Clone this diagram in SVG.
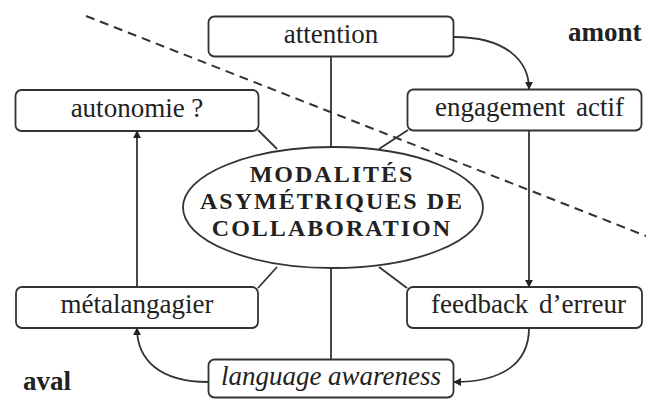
<svg xmlns="http://www.w3.org/2000/svg" width="646" height="399" viewBox="0 0 646 399">
<defs>
<style>
.box{fill:#fff;stroke:#333;stroke-width:1.8}
.t{font-family:"Liberation Serif","Times New Roman",serif;font-size:27px;fill:#222;text-anchor:middle}
.b{font-weight:bold}
.c{font-size:24px;letter-spacing:2px}
.ln{fill:none;stroke:#333;stroke-width:1.8}
.dash{fill:none;stroke:#333;stroke-width:2;stroke-dasharray:9 6}
</style>
<marker id="arr" viewBox="0 0 10 10" refX="9" refY="5" markerWidth="8" markerHeight="8" markerUnits="userSpaceOnUse" orient="auto">
<path d="M0,0 L10,5 L0,10 z" fill="#222"/>
</marker>
</defs>
<rect width="646" height="399" fill="#fff"/>
<line class="dash" x1="86" y1="16" x2="646" y2="236"/>
<g id="connectors">
<line class="ln" x1="331" y1="57" x2="331" y2="147"/>
<line class="ln" x1="331" y1="268" x2="331" y2="359"/>
<line class="ln" x1="258" y1="130" x2="277" y2="149"/>
<line class="ln" x1="408" y1="130" x2="379" y2="149"/>
<line class="ln" x1="258" y1="288" x2="277" y2="267"/>
<line class="ln" x1="407" y1="288" x2="379" y2="267"/>
<path class="ln" d="M454,37 C505,37 529,60 529,89" marker-end="url(#arr)"/>
<path class="ln" d="M529,130 L529,287" marker-end="url(#arr)"/>
<path class="ln" d="M529,328 C529,365 500,382 454,382" marker-end="url(#arr)"/>
<path class="ln" d="M208,382 C160,382 137,360 137,328" marker-end="url(#arr)"/>
<path class="ln" d="M137,287 L137,131" marker-end="url(#arr)"/>
</g>
<g id="center">
<ellipse class="box" cx="333" cy="207.5" rx="150" ry="60.5"/>
<text class="t b c" x="332" y="182">MODALITÉS</text>
<text class="t b c" x="332" y="209">ASYMÉTRIQUES DE</text>
<text class="t b c" x="332" y="236">COLLABORATION</text>
</g>
<g id="attention">
<rect class="box" x="208.5" y="16.5" width="245" height="40" rx="6"/>
<text class="t" x="331" y="43">attention</text>
</g>
<g id="autonomie">
<rect class="box" x="15.5" y="90" width="243" height="41" rx="6"/>
<text class="t" x="137" y="117">autonomie ?</text>
</g>
<g id="engagement">
<rect class="box" x="407.5" y="89.5" width="234" height="41" rx="6"/>
<text class="t" x="529.5" y="116" word-spacing="4">engagement actif</text>
</g>
<g id="metalangagier">
<rect class="box" x="16" y="287" width="242" height="41" rx="6"/>
<text class="t" x="137" y="313">métalangagier</text>
</g>
<g id="feedback">
<rect class="box" x="407" y="287" width="235" height="41" rx="6"/>
<text class="t" x="528.5" y="313" word-spacing="4">feedback d’erreur</text>
</g>
<g id="language">
<rect class="box" x="208.5" y="359.5" width="245" height="38" rx="6"/>
<text class="t" x="331" y="385" font-style="italic">language awareness</text>
</g>
<g id="labels">
<text class="t b" x="568" y="41" style="text-anchor:start">amont</text>
<text class="t b" x="23" y="390" style="text-anchor:start">aval</text>
</g>
</svg>
